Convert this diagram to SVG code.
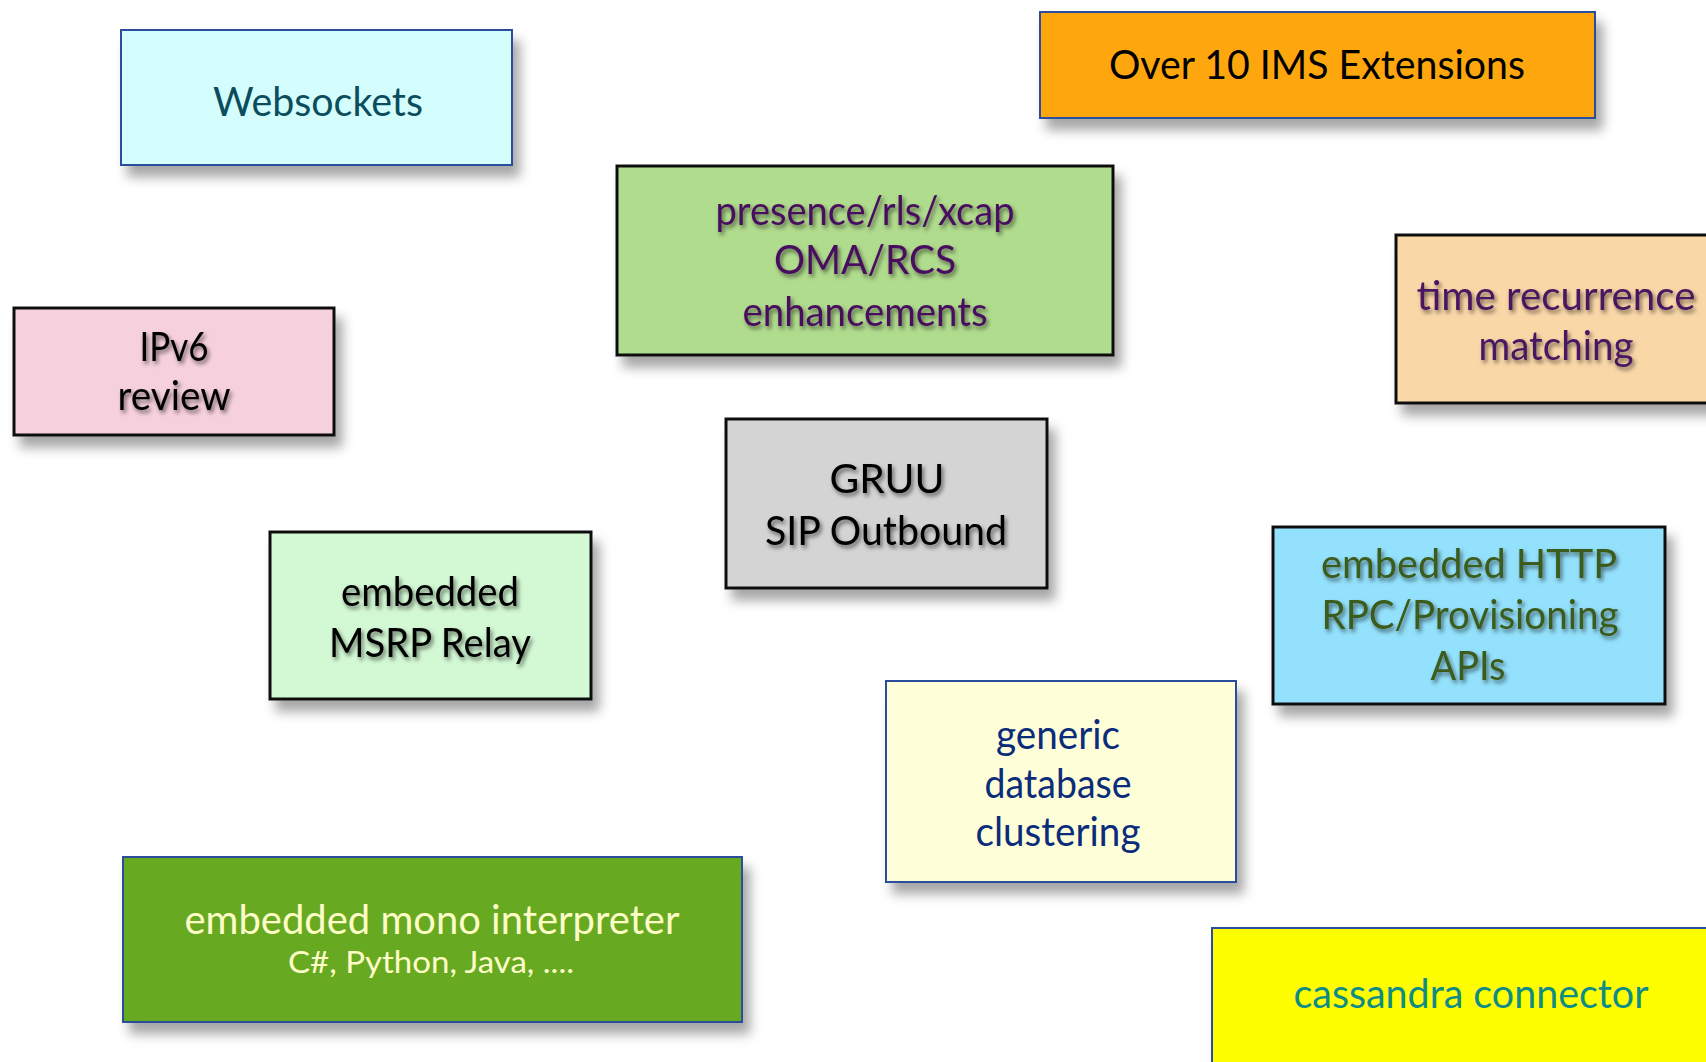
<svg xmlns="http://www.w3.org/2000/svg" width="1706" height="1062" viewBox="0 0 1706 1062">
<defs>
<filter id="bs" x="-10%" y="-10%" width="130%" height="140%">
<feDropShadow dx="7" dy="11" stdDeviation="6" flood-color="#000" flood-opacity="0.35"/>
</filter>
<filter id="ts" x="-10%" y="-30%" width="120%" height="180%">
<feDropShadow dx="2" dy="3" stdDeviation="2.2" flood-color="#000" flood-opacity="0.55"/>
</filter>
</defs>
<style>
text{font-family:Lato,"Open Sans","Liberation Sans",sans-serif;font-size:40px;text-anchor:middle}
.kb{stroke:#111;stroke-width:3}
.bb{stroke:#2a4e9c;stroke-width:2}
.sh{filter:url(#ts)}
</style>
<rect width="1706" height="1062" fill="#fff"/>
<g id="connectors"/>
<g id="websockets">
<rect class="bb" x="121" y="30" width="391" height="135" fill="#d4fdfd" filter="url(#bs)"/>
<text x="318" y="116" fill="#0b4d5c" textLength="210" lengthAdjust="spacingAndGlyphs">Websockets</text>
</g>
<g id="ims">
<rect class="bb" x="1040" y="12" width="555" height="106" fill="#fea611" filter="url(#bs)"/>
<text x="1317" y="79" fill="#000" textLength="416" lengthAdjust="spacingAndGlyphs">Over 10 IMS Extensions</text>
</g>
<g id="presence">
<rect class="kb" x="617" y="166" width="496" height="189" fill="#b0dc8d" filter="url(#bs)"/>
<g class="sh" fill="#4a1060">
<text x="865" y="225" textLength="299" lengthAdjust="spacingAndGlyphs">presence/rls/xcap</text>
<text x="865" y="274" textLength="182" lengthAdjust="spacingAndGlyphs">OMA/RCS</text>
<text x="865" y="326" textLength="245" lengthAdjust="spacingAndGlyphs">enhancements</text>
</g>
</g>
<g id="time">
<rect class="kb" x="1396" y="235" width="320" height="168" fill="#fad7a7" filter="url(#bs)"/>
<g class="sh" fill="#4a1460">
<text x="1556" y="310" textLength="279" lengthAdjust="spacingAndGlyphs">time recurrence</text>
<text x="1556" y="360" textLength="155" lengthAdjust="spacingAndGlyphs">matching</text>
</g>
</g>
<g id="ipv6">
<rect class="kb" x="14" y="308" width="320" height="127" fill="#f6d0dd" filter="url(#bs)"/>
<g class="sh" fill="#000">
<text x="174" y="361" textLength="69" lengthAdjust="spacingAndGlyphs">IPv6</text>
<text x="174" y="410" textLength="113" lengthAdjust="spacingAndGlyphs">review</text>
</g>
</g>
<g id="gruu">
<rect class="kb" x="726" y="419" width="321" height="169" fill="#d4d4d4" filter="url(#bs)"/>
<g class="sh" fill="#000">
<text x="887" y="493" textLength="115" lengthAdjust="spacingAndGlyphs">GRUU</text>
<text x="886" y="545" textLength="242" lengthAdjust="spacingAndGlyphs">SIP Outbound</text>
</g>
</g>
<g id="msrp">
<rect class="kb" x="270" y="532" width="321" height="167" fill="#d3f9d4" filter="url(#bs)"/>
<g class="sh" fill="#000">
<text x="430" y="606" textLength="178" lengthAdjust="spacingAndGlyphs">embedded</text>
<text x="430" y="657" textLength="202" lengthAdjust="spacingAndGlyphs">MSRP Relay</text>
</g>
</g>
<g id="http">
<rect class="kb" x="1273" y="527" width="392" height="177" fill="#93e1fc" filter="url(#bs)"/>
<g class="sh" fill="#3b5b1a">
<text x="1469" y="578" textLength="296" lengthAdjust="spacingAndGlyphs">embedded HTTP</text>
<text x="1470" y="629" textLength="297" lengthAdjust="spacingAndGlyphs">RPC/Provisioning</text>
<text x="1468" y="680" textLength="75" lengthAdjust="spacingAndGlyphs">APIs</text>
</g>
</g>
<g id="database">
<rect class="bb" x="886" y="681" width="350" height="201" fill="#fefed9" filter="url(#bs)"/>
<g fill="#0b2c7a" style="font-size:38px">
<text x="1058" y="749" textLength="124" lengthAdjust="spacingAndGlyphs">generic</text>
<text x="1058" y="798" textLength="147" lengthAdjust="spacingAndGlyphs">database</text>
<text x="1058" y="846" textLength="165" lengthAdjust="spacingAndGlyphs">clustering</text>
</g>
</g>
<g id="mono">
<rect class="bb" x="123" y="857" width="619" height="165" fill="#68a924" filter="url(#bs)"/>
<g fill="#fdfdc8">
<text x="432" y="934" textLength="495" lengthAdjust="spacingAndGlyphs">embedded mono interpreter</text>
<text x="431" y="973" style="font-size:31px" textLength="286" lengthAdjust="spacingAndGlyphs">C#, Python, Java, ....</text>
</g>
</g>
<g id="cassandra">
<rect class="bb" x="1212" y="928" width="510" height="150" fill="#fefe00" filter="url(#bs)"/>
<text x="1471" y="1008" fill="#0e8c85" textLength="355" lengthAdjust="spacingAndGlyphs">cassandra connector</text>
</g>
</svg>
